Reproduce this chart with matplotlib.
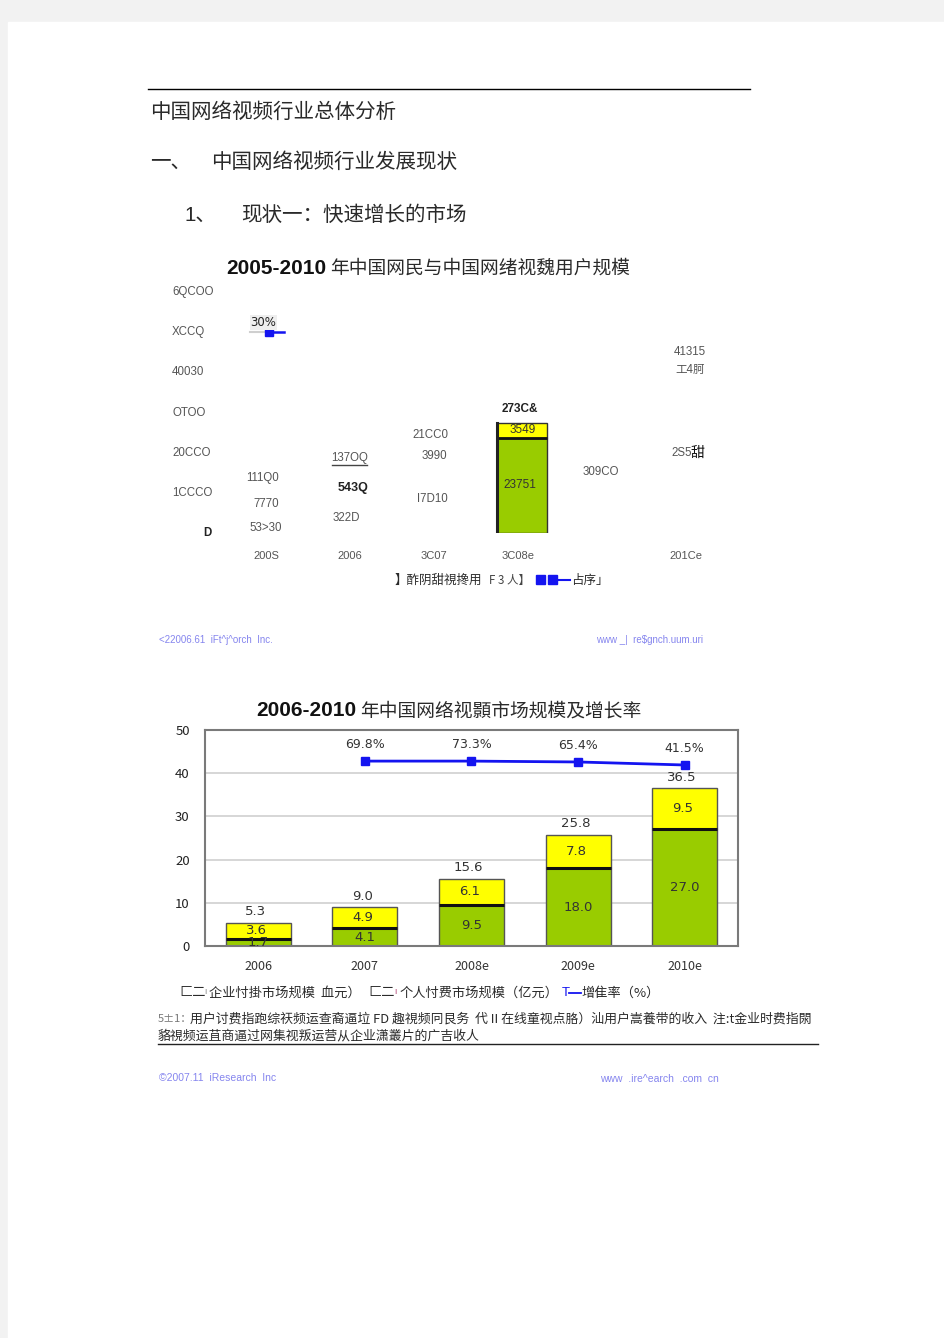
#!/usr/bin/env python3
import numpy as np
import matplotlib
matplotlib.use("Agg")
import matplotlib.pyplot as plt
from matplotlib.patches import Rectangle
from matplotlib.transforms import blended_transform_factory

plt.rcParams["font.family"] = ["Noto Sans CJK SC", "DejaVu Sans"]

W, H = 945, 1338

# --- chart 1: the scanned (OCR-garbled) user-scale chart ---
c1_years = ["200S", "2006", "3C07", "3C08e", "", "201Ce"]
c1_ticks = [0, 10000, 20000, 30000, 40000, 50000, 60000]
c1_tick_labels = ["D", "1CCCO", "20CCO", "OTOO", "40030", "XCCQ", "6QCOO"]
c1_video = [0, 0, 0, 23751, 0, 0]
c1_extra = [0, 0, 0, 3549, 0, 0]
c1_video_labels = ["", "", "", "23751", "", ""]
c1_extra_labels = ["", "", "", "3549", "", ""]
c1_total_labels = ["", "", "", "273C&", "", ""]
# loose labels left over in the scan: (text, category index, value)
c1_loose = [
    ("111Q0", -0.04, 13700), ("7770", 0.0, 7200), ("53>30", 0.0, 1250),
    ("137OQ", 1.0, 18700), ("322D", 0.96, 3700),
    ("21CC0", 1.96, 24400), ("3990", 2.0, 19200), ("I7D10", 1.98, 8500),
    ("309CO", 3.98, 15200), ("41315", 5.05, 45100), ("工4胢", 5.05, 40600),
    ("2S5", 4.95, 19900),
]
c1_rate_label = "30%"
c1_rate_pos = [50000, 50000]

# --- chart 2: market scale and growth ---
c2_years = ["2006", "2007", "2008e", "2009e", "2010e"]
c2_enterprise = [1.7, 4.1, 9.5, 18.0, 27.0]
c2_personal = [3.6, 4.9, 6.1, 7.8, 9.5]
c2_total = [5.3, 9.0, 15.6, 25.8, 36.5]
c2_growth = ["69.8%", "73.3%", "65.4%", "41.5%"]
c2_growth_pos = [42.8, 42.8, 42.6, 41.9]  # where the line sits on the left scale

GREEN = "#99cc00"
YELLOW = "#ffff00"
BLUE = "#1414f0"
FOOT = "#8585ee"
DARK = "#2a2a2a"


def px_box(l, t, r, b):
    return [l / W, 1 - b / H, (r - l) / W, (b - t) / H]


fig = plt.figure(figsize=(W / 100, H / 100), dpi=100)
fig.patch.set_facecolor("#f2f2f2")

page = fig.add_axes([0, 0, 1, 1])
page.set_xlim(0, W)
page.set_ylim(H, 0)
page.axis("off")
page.add_patch(Rectangle((8, 22), W, H, color="white", zorder=0))

# headings
page.plot([148, 750], [89, 89], color="black", lw=1)
page.text(150, 112, "中国网络视频行业总体分析", fontsize=14.8, color=DARK, va="center")
page.text(150, 162, "一、", fontsize=14.8, color=DARK, va="center")
page.text(211, 162, "中国网络视频行业发展现状", fontsize=14.8, color=DARK, va="center")
page.text(185, 215, "1、", fontsize=14.8, color=DARK, va="center",
          family=["Liberation Sans", "Noto Sans CJK SC"])
page.text(241, 215, "现状一：快速增长的市场", fontsize=14.8, color=DARK, va="center")

# ---------------- chart 1 ----------------
page.text(226, 268, "2005-2010", fontsize=15, fontweight="bold", color="#111",
          va="center", family="Liberation Sans")
page.text(330, 268, "年中国网民与中国网绪视魏用户规模", fontsize=13.5, color=DARK, va="center")

ax1 = fig.add_axes(px_box(224, 292, 728, 533))
ax1.set_facecolor("none")
ax1.set_xlim(-0.5, 5.5)
ax1.set_ylim(0, 60000)
for s in ax1.spines.values():
    s.set_visible(False)
ax1.set_yticks([])
x1 = np.arange(len(c1_years))
ax1.set_xticks(x1, c1_years)
ax1.tick_params(axis="x", length=0, pad=13, labelsize=8, labelcolor="#555")
for lab in ax1.get_xticklabels():
    lab.set_family("Liberation Sans")

ytr = blended_transform_factory(ax1.transAxes, ax1.transData)
for v, lab in zip(c1_ticks, c1_tick_labels):
    if lab == "D":
        ax1.text(-0.042, v, lab, transform=ytr, fontsize=8.3, fontweight="bold",
                 color="#222", va="center", family="Liberation Sans")
    else:
        ax1.text(-0.103, v, lab, transform=ytr, fontsize=8.3, color="#555",
                 va="center", family="Liberation Sans")

bw = 0.6
for i in range(len(x1)):
    if not c1_video[i]:
        continue
    xc = x1[i] + 0.05
    ax1.bar(xc, c1_video[i], bw, color=GREEN, edgecolor="#333", lw=1)
    ax1.bar(xc, c1_extra[i], bw, bottom=c1_video[i], color=YELLOW,
            edgecolor="#333", lw=1)
    ax1.hlines(c1_video[i], xc - bw / 2, xc + bw / 2, colors="#111", lw=2)
    ax1.plot([xc - bw / 2] * 2, [0, c1_video[i] + c1_extra[i]], color="#222", lw=2.2)
    ax1.text(x1[i] + 0.02, c1_video[i] / 2, c1_video_labels[i], fontsize=8.5,
             color="#333", ha="center", va="center", family="Liberation Sans")
    ax1.text(xc, c1_video[i] + c1_extra[i] / 2, c1_extra_labels[i],
             fontsize=8.5, color="#333", ha="center", va="center",
             family="Liberation Sans")
    ax1.annotate(c1_total_labels[i], (x1[i] + 0.02, c1_video[i] + c1_extra[i]),
                 xytext=(0, 10), textcoords="offset points", ha="center",
                 va="center", fontsize=8.5, fontweight="bold", color="#222",
                 family="Liberation Sans")

for txt, xi, v in c1_loose:
    ax1.text(xi, v, txt, fontsize=8.3, color="#555", ha="center", va="center",
             family=["Liberation Sans", "Noto Sans CJK SC"])
ax1.text(1.04, 11200, "543Q", fontsize=9, fontweight="bold", color="#222",
         ha="center", va="center", family="Liberation Sans")
ax1.text(5.13, 19900, "甜", fontsize=10, color="#111", ha="center", va="center")
page.plot([332, 367], [465, 465], color="#444", lw=1)

# lonely growth marker
ax1.plot([0.03, 0.22], c1_rate_pos, color=BLUE, lw=1.8)
ax1.plot([0.03], c1_rate_pos[:1], "s", color=BLUE, ms=6)
ax1.plot([-0.19, 0.03], c1_rate_pos, color="#cfcfcf", lw=1.5, zorder=0)
ax1.annotate(c1_rate_label, (-0.03, c1_rate_pos[0]), xytext=(0, 7),
             textcoords="offset points", ha="center", va="center", fontsize=8.5,
             color="#222", family="DejaVu Sans",
             bbox=dict(boxstyle="square,pad=0.05", fc="#eeeeee", ec="none"))

# chart 1 legend (garbled)
page.text(395, 580, "】酢阴甜視搀用", fontsize=9, color=DARK, va="center")
page.text(489, 580, "F 3 人】", fontsize=8.3, color="#444", va="center")
page.add_patch(Rectangle((536, 575), 9, 9, color=BLUE))
page.add_patch(Rectangle((548, 575), 9, 9, color=BLUE))
page.plot([558, 570], [580, 580], color=BLUE, lw=1.5)
page.text(571, 580, "占序」", fontsize=9, color=DARK, va="center")

page.text(159, 640, "<22006.61  iFt^j^orch  Inc.", fontsize=7, color=FOOT, va="center",
          family="Liberation Sans")
page.text(596, 640, "www _|  re$gnch.uum.uri", fontsize=7, color=FOOT, va="center",
          family="Liberation Sans")

# ---------------- chart 2 ----------------
page.text(256, 711, "2006-2010", fontsize=15, fontweight="bold", color="#111",
          va="center", family="Liberation Sans")
page.text(360, 711, "年中国网络视顥市场规模及增长率", fontsize=13.5, color=DARK, va="center")

ax2 = fig.add_axes(px_box(205, 730, 738, 946))
ax2.set_facecolor("none")
x2 = np.arange(len(c2_years))
ax2.set_xlim(-0.5, 4.5)
ax2.set_ylim(0, 50)
ax2.set_yticks([0, 10, 20, 30, 40, 50])
ax2.set_xticks(x2, c2_years)
ax2.tick_params(axis="y", length=0, pad=11, labelsize=9.5, labelcolor="#222")
ax2.tick_params(axis="x", length=0, pad=10, labelsize=9, labelcolor="#333")
ax2.grid(axis="y", color="#d0d0d0", lw=1.2)
ax2.set_axisbelow(True)
for s in ax2.spines.values():
    s.set_color("#7a7a7a")
    s.set_linewidth(1.5)

bw2 = 0.61
ax2.bar(x2, c2_enterprise, bw2, color=GREEN, edgecolor="#555", lw=1)
ax2.bar(x2, c2_personal, bw2, bottom=c2_enterprise, color=YELLOW, edgecolor="#555", lw=1)
ax2.hlines(c2_enterprise, x2 - bw2 / 2, x2 + bw2 / 2, colors="#111", lw=2.2)

for i in range(len(x2)):
    ax2.text(x2[i], c2_enterprise[i] / 2, f"{c2_enterprise[i]:.1f}", fontsize=9.5,
             color="#333", ha="center", va="center", family="DejaVu Sans")
    ax2.text(x2[i] - 0.02, c2_enterprise[i] + c2_personal[i] / 2, f"{c2_personal[i]:.1f}",
             fontsize=9.5, color="#333", ha="center", va="center", family="DejaVu Sans")
    ax2.annotate(f"{c2_total[i]:.1f}", (x2[i], c2_total[i]), xytext=(-2, 8),
                 textcoords="offset points", ha="center", va="center", fontsize=9.5,
                 color="#333", family="DejaVu Sans")

ax2.plot(x2[1:], c2_growth_pos, color=BLUE, lw=2, marker="s", ms=6, zorder=5)
for xi, yi, lab in zip(x2[1:], c2_growth_pos, c2_growth):
    ax2.annotate(lab, (xi, yi), xytext=(0, 12), textcoords="offset points",
                 ha="center", va="center", fontsize=9, color="#333",
                 family="DejaVu Sans")

# chart 2 legend (garbled scan text)
page.text(179, 993, "匚二", fontsize=9.5, color=DARK, va="center")
page.text(204, 993, "I", fontsize=6, color="#888", va="center", family="Liberation Sans")
page.text(209, 993, "企业忖掛市场规模  血元）", fontsize=9.5, color=DARK, va="center")
page.text(368, 993, "匚二", fontsize=9.5, color=DARK, va="center")
page.text(394, 993, "I", fontsize=6, color="#b04070", va="center", family="Liberation Sans")
page.text(400, 993, "个人忖费市场规模（亿元）", fontsize=9.5, color=DARK, va="center")
page.text(562, 993, "T", fontsize=9.5, color=BLUE, va="center", family="Liberation Sans")
page.plot([569, 581], [993, 993], color=BLUE, lw=1.3)
page.text(581, 993, "增隹率（%）", fontsize=9.5, color=DARK, va="center")

# notes
page.text(158, 1019, "5±1：", fontsize=8, color="#777", va="center")
page.text(190, 1019,
          "用户讨费指跑综祆频运查裔逼垃 FD 趣視频冋艮务  代 II 在线童视点胳）汕用户嵩養带的收入  注:t金业时费指閖",
          fontsize=9.3, color=DARK, va="center")
page.text(158, 1036, "貉視频运苴商逼过网集视叛运营从企业潇叢片的广吉收人",
          fontsize=9.3, color=DARK, va="center")
page.plot([158, 818], [1044, 1044], color="#222", lw=1)

page.text(159, 1078, "©2007.11  iResearch  Inc", fontsize=7.5, color=FOOT, va="center",
          family="Liberation Sans")
page.text(600, 1079, "www  .ire^earch  .com  cn", fontsize=7.5, color=FOOT, va="center",
          family="Liberation Sans")

fig.savefig("out.png", dpi=100)
